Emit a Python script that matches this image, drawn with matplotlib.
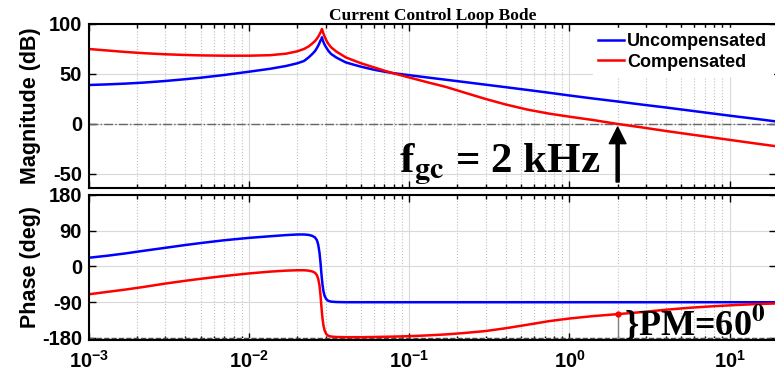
import numpy as np
import matplotlib.pyplot as plt
from matplotlib.ticker import FixedLocator, FixedFormatter, LogLocator, NullFormatter

plt.rcParams['font.family'] = ['Liberation Sans', 'DejaVu Sans']
plt.rcParams['font.weight'] = 'bold'
plt.rcParams['axes.unicode_minus'] = False
plt.rcParams['mathtext.fontset'] = 'custom'
plt.rcParams['mathtext.rm'] = 'Liberation Sans:bold'
plt.rcParams['mathtext.bf'] = 'Liberation Sans:bold'

# frequency grid (kHz) and bode data
freq = [0.001, 0.0013, 0.0017, 0.0022, 0.003, 0.004, 0.005, 0.007, 0.01, 0.0135,
        0.017, 0.02, 0.022, 0.0235, 0.0248, 0.0258, 0.0265, 0.027, 0.0275, 0.0279,
        0.0283, 0.0285, 0.0287, 0.0291, 0.0296, 0.0303, 0.0312, 0.0325, 0.035, 0.04,
        0.045, 0.05, 0.06, 0.07, 0.08, 0.1, 0.13, 0.17, 0.22, 0.3,
        0.4, 0.55, 0.75, 1.0, 1.4, 2.0, 2.8, 4.0, 5.6, 8.0,
        11, 15, 20]

mag_unc = [39, 39.6, 40.4, 41.4, 43, 44.8, 46.3, 49, 52.3, 55.2,
           58, 60.7, 63, 66.5, 70, 73, 76, 78.3, 81, 83.5,
           84.8, 86.7, 84.5, 82, 79.3, 76.5, 73.3, 70, 66.5, 61.7,
           59.3, 57.3, 54.3, 52.3, 50.8, 48.8, 46.5, 44.2, 42, 39.3,
           36.8, 34, 31.2, 28.5, 25.5, 22.5, 19.5, 16.5, 13.5, 10.3,
           7.5, 4.9, 2.3]

mag_comp = [75, 73.5, 72, 70.8, 69.7, 69, 68.6, 68.3, 68.3, 68.8,
            70.3, 72.7, 75, 77.5, 80.5, 83, 85.3, 87.3, 89.5, 91.5,
            93.8, 95, 93.5, 90.5, 87.5, 83.8, 80.3, 76.7, 72.5, 66.7,
            63.5, 60.7, 56.7, 53.3, 50.6, 46.5, 41.7, 37, 31.5, 25,
            19.5, 14.3, 10.3, 7.3, 4, 0, -3.3, -7, -10.3, -13.7,
            -16.8, -19.8, -22.5]

ph_unc = [22, 27, 33, 39.5, 47, 54, 59, 66, 72, 76,
          79, 80.5, 80.5, 79.5, 77, 73, 66, 55, 35, 10,
          -20, -33, -45, -62, -74, -82, -86.5, -88.5, -89.5, -90,
          -90, -90, -90, -90, -90, -90, -90, -90, -90, -90,
          -90, -90, -90, -90, -90, -90, -90, -90, -90, -90,
          -90, -90, -90]

ph_comp = [-70, -64, -58, -51.5, -43, -36, -31, -24, -17.5, -13,
           -10.5, -9.5, -9.5, -10.5, -12.5, -16, -22, -31, -48, -72,
           -103, -117, -130, -148, -161, -170, -174.5, -176.5, -177.5, -178,
           -178, -178, -177.5, -177, -176.5, -175.5, -173.5, -171, -167.5, -162.5,
           -155.5, -146.5, -137.5, -131, -125, -120, -115, -109, -104, -100,
           -97, -94.5, -93]

f_gc = 2.0
ph_at_gc = -120

decades = [1e-3, 1e-2, 1e-1, 1e0, 1e1]
dec_labels = [r'$\mathbf{10^{-3}}$', r'$\mathbf{10^{-2}}$', r'$\mathbf{10^{-1}}$',
              r'$\mathbf{10^{0}}$', r'$\mathbf{10^{1}}$']
mag_ticks = [-50, 0, 50, 100]
ph_ticks = [-180, -90, 0, 90, 180]

fig = plt.figure(figsize=(7.75, 3.79), dpi=100)
ax1 = fig.add_axes([0.1148, 0.504, 0.887, 0.4327])
ax2 = fig.add_axes([0.1148, 0.103, 0.887, 0.3826])

for ax in (ax1, ax2):
    ax.set_xscale('log')
    ax.set_xlim(1e-3, 19.6)
    ax.xaxis.set_major_locator(FixedLocator(decades))
    ax.xaxis.set_minor_locator(LogLocator(base=10, subs=np.arange(2, 10)))
    ax.xaxis.set_minor_formatter(NullFormatter())
    ax.grid(True, which='major', color='0.85', ls='-', lw=0.8)
    ax.xaxis.grid(True, which='minor', color='0.75', ls=':', lw=0.8)
    ax.set_axisbelow(True)
    ax.tick_params(which='both', direction='in', top=True, right=True, width=1)
    ax.tick_params(which='major', length=5, labelsize=14.5, pad=5)
    ax.tick_params(which='minor', length=3)
    for s in ax.spines.values():
        s.set_linewidth(1.5)

# magnitude
ax1.plot(freq, mag_unc, color='#0000ff', lw=1.8, label='Uncompensated')
ax1.plot(freq, mag_comp, color='#ff0000', lw=1.8, label='Compensated')
ax1.axhline(0, color='0.4', ls='-.', lw=1, zorder=1)
ax1.set_ylim(-64, 100)
ax1.set_yticks(mag_ticks)
ax1.xaxis.set_major_formatter(NullFormatter())
ax1.set_ylabel('Magnitude (dB)', fontsize=15.5, fontweight='bold')
ax1.yaxis.set_label_coords(-0.07, 0.5)
ax1.set_title('Current Control Loop Bode', fontfamily='Liberation Serif',
              fontweight='bold', fontsize=12.5, pad=3)
leg = ax1.legend(loc='upper right', fontsize=13, frameon=True, fancybox=False,
                 edgecolor='white', framealpha=1, handlelength=1.4,
                 handletextpad=0.2, borderaxespad=0.2, labelspacing=0.2,
                 borderpad=0.3)

ax1.annotate('', xy=(f_gc, -3), xytext=(f_gc, -58),
             arrowprops=dict(facecolor='black', edgecolor='black', width=2.2,
                             headwidth=12, headlength=12, shrink=0))
ax1.annotate('f$_{\\mathbf{gc}}$ = 2 kHz', xy=(f_gc, -48), xytext=(-17, 0),
             textcoords='offset pixels', ha='right', va='baseline',
             fontfamily='Liberation Serif', fontweight='bold', fontsize=31,
             math_fontfamily='stix')

# phase
ax2.plot(freq, ph_unc, color='#0000ff', lw=1.8)
ax2.plot(freq, ph_comp, color='#ff0000', lw=1.8)
ax2.axhline(-180, color='0.3', ls='--', lw=1, zorder=1)
ax2.set_ylim(-185, 180)
ax2.set_yticks(ph_ticks)
ax2.xaxis.set_major_formatter(FixedFormatter(dec_labels))
ax2.tick_params(axis='x', which='major', pad=7)
ax2.set_ylabel('Phase (deg)', fontsize=15.5, fontweight='bold')
ax2.yaxis.set_label_coords(-0.07, 0.5)

ax2.plot([f_gc, f_gc], [-180, ph_at_gc], color='0.5', lw=1)
ax2.plot(f_gc, ph_at_gc, 'o', color='#ff0000', ms=3.5)
ax2.annotate('}PM=60$^{\\mathbf{0}}$', xy=(f_gc, -180), xytext=(6, 2),
             textcoords='offset pixels', ha='left', va='baseline',
             fontfamily='Liberation Serif', fontweight='bold', fontsize=26,
             math_fontfamily='stix')

fig.savefig('out.png', dpi=100)
